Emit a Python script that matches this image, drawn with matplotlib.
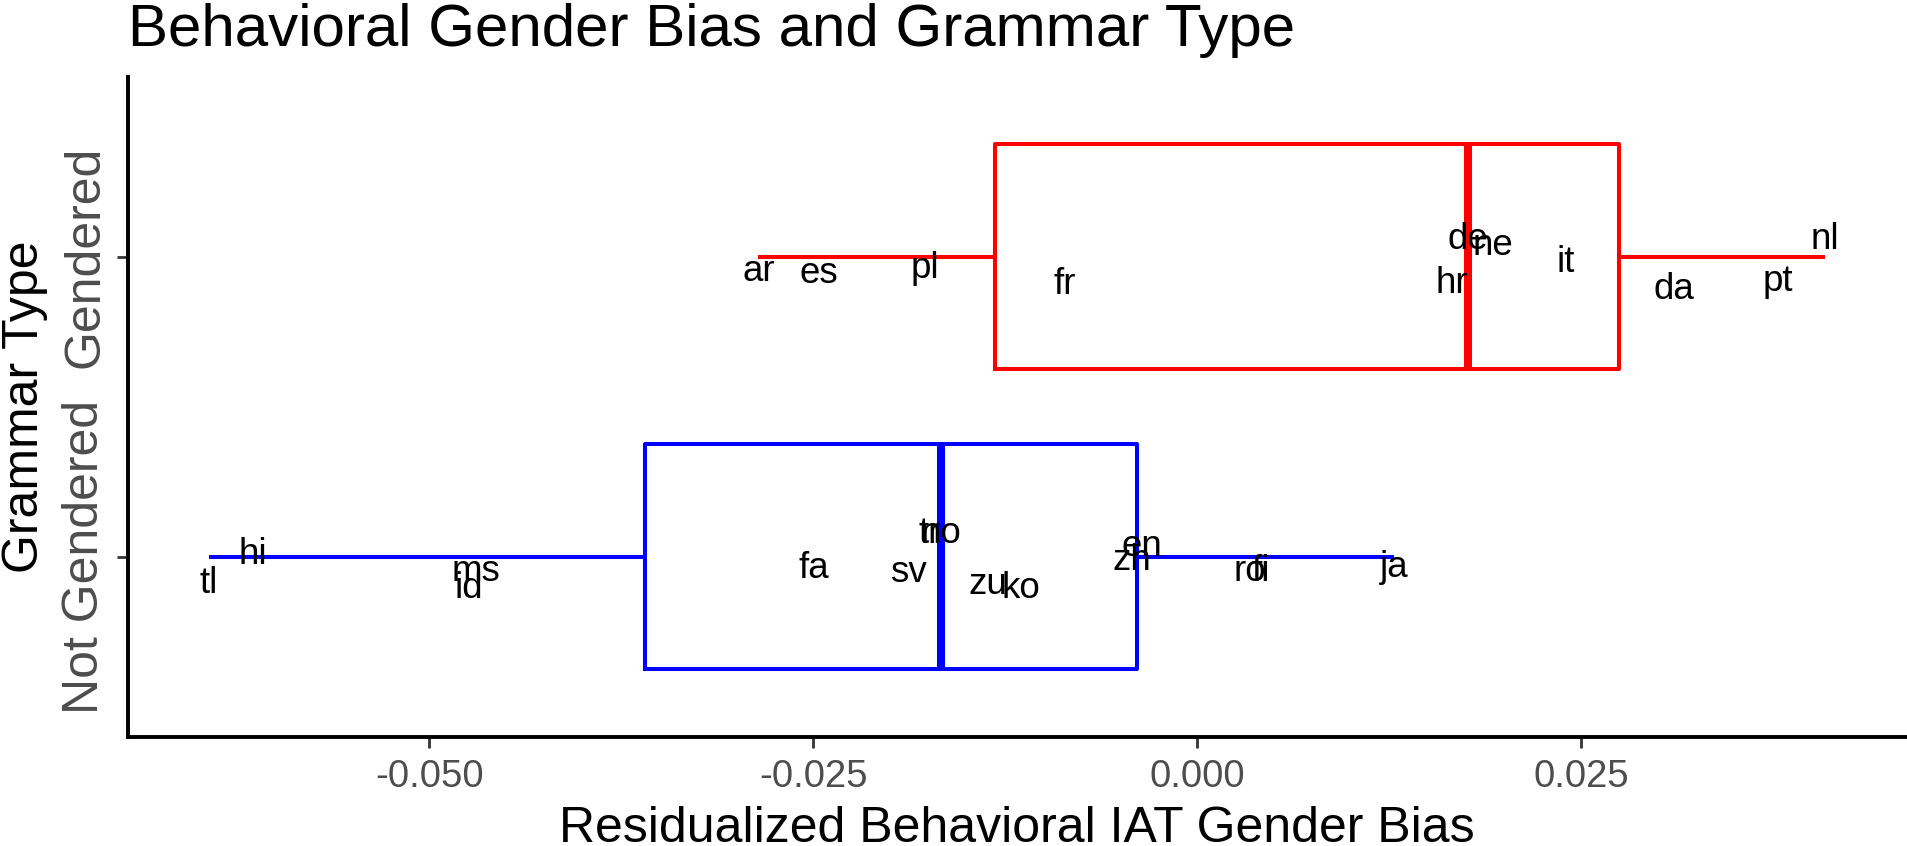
import matplotlib
matplotlib.use("Agg")
import matplotlib.pyplot as plt

plt.rcParams['font.family'] = ['Liberation Sans', 'DejaVu Sans']

# ---- data ----
categories = ["Not Gendered", "Gendered"]
title = "Behavioral Gender Bias and Grammar Type"
x_title = "Residualized Behavioral IAT Gender Bias"
y_title = "Grammar Type"

gendered_langs = ["ar", "es", "pl", "fr", "hr", "de", "ne", "it", "da", "pt", "nl"]
gendered_vals = [-0.02857, -0.02462, -0.01770, -0.00864, 0.01658, 0.01760,
                 0.01926, 0.02397, 0.03102, 0.03784, 0.04087]
gendered_jit = [-0.050, -0.057, -0.038, -0.091, -0.088, 0.057, 0.036, -0.019,
                -0.110, -0.083, 0.058]

notg_langs = ["tl", "hi", "id", "ms", "fa", "sv", "tr", "no", "zu", "ko",
              "zh", "en", "ro", "fi", "ja"]
notg_vals = [-0.06438, -0.06150, -0.04740, -0.04699, -0.02497, -0.01879,
             -0.01744, -0.01670, -0.01360, -0.01147, -0.00425, -0.00360,
             0.00345, 0.00415, 0.01280]
notg_jit = [-0.090, 0.006, -0.105, -0.050, -0.039, -0.052, 0.078, 0.078,
            -0.094, -0.105, -0.013, 0.033, -0.050, -0.048, -0.036]

x_ticks = [-0.050, -0.025, 0.000, 0.025]
x_ticklabels = ["-0.050", "-0.025", "0.000", "0.025"]
colors = ["#0000FF", "#FF0000"]

# ---- figure ----
W, H = 1907, 846
fig = plt.figure(figsize=(W / 100, H / 100), dpi=100)
ax = fig.add_axes([127.7 / W, 1 - 736.7 / H, (1905.7 - 127.7) / W, (736.7 - 76.7) / H])

groups = [notg_vals, gendered_vals]
positions = [1, 2]
for vals, pos, col in zip(groups, positions, colors):
    ax.boxplot([vals], positions=[pos], widths=0.75, orientation='horizontal',
               whis=1.5, showcaps=False, showfliers=False, manage_ticks=False,
               boxprops=dict(color=col, linewidth=2.9),
               whiskerprops=dict(color=col, linewidth=2.9, solid_capstyle='butt'),
               medianprops=dict(color=col, linewidth=5.8, solid_capstyle='butt'))

for langs, vals, jit, pos in [(notg_langs, notg_vals, notg_jit, 1),
                              (gendered_langs, gendered_vals, gendered_jit, 2)]:
    for lab, v, j in zip(langs, vals, jit):
        ax.text(v, pos + j, lab, ha='center', va='center', fontsize=26.5,
                color='black', zorder=5)

# limits with ggplot-style expansion
lo = min(notg_vals + gendered_vals)
hi = max(notg_vals + gendered_vals)
pad = 0.05 * (hi - lo)
ax.set_xlim(lo - pad, hi + pad)
ax.set_ylim(0.4, 2.6)

ax.set_xticks(x_ticks)
ax.set_xticklabels(x_ticklabels)
ax.set_yticks(positions)
ax.set_yticklabels(categories, rotation=90, va='center', ha='right')

for s in ['top', 'right']:
    ax.spines[s].set_visible(False)
for s in ['left', 'bottom']:
    ax.spines[s].set_linewidth(2.8)
    ax.spines[s].set_color('black')

ax.tick_params(axis='x', length=8, width=2.0, color='#333333', labelsize=27.5,
               labelcolor='#4D4D4D', pad=8)
ax.tick_params(axis='y', length=8, width=2.0, color='#333333', labelsize=36,
               labelcolor='#4D4D4D', pad=6)

fig.text(127.7 / W, 1 - 46 / H, title, ha='left', va='baseline', fontsize=43.3,
         color='black')
fig.text((127.7 + 1905.7) / 2 / W, 1 - 842 / H, x_title, ha='center',
         va='baseline', fontsize=36, color='black')
fig.text(2 / W, 1 - 406.7 / H, y_title, ha='left', va='center', rotation=90,
         fontsize=36, color='black')

fig.savefig("out.png", dpi=100)
